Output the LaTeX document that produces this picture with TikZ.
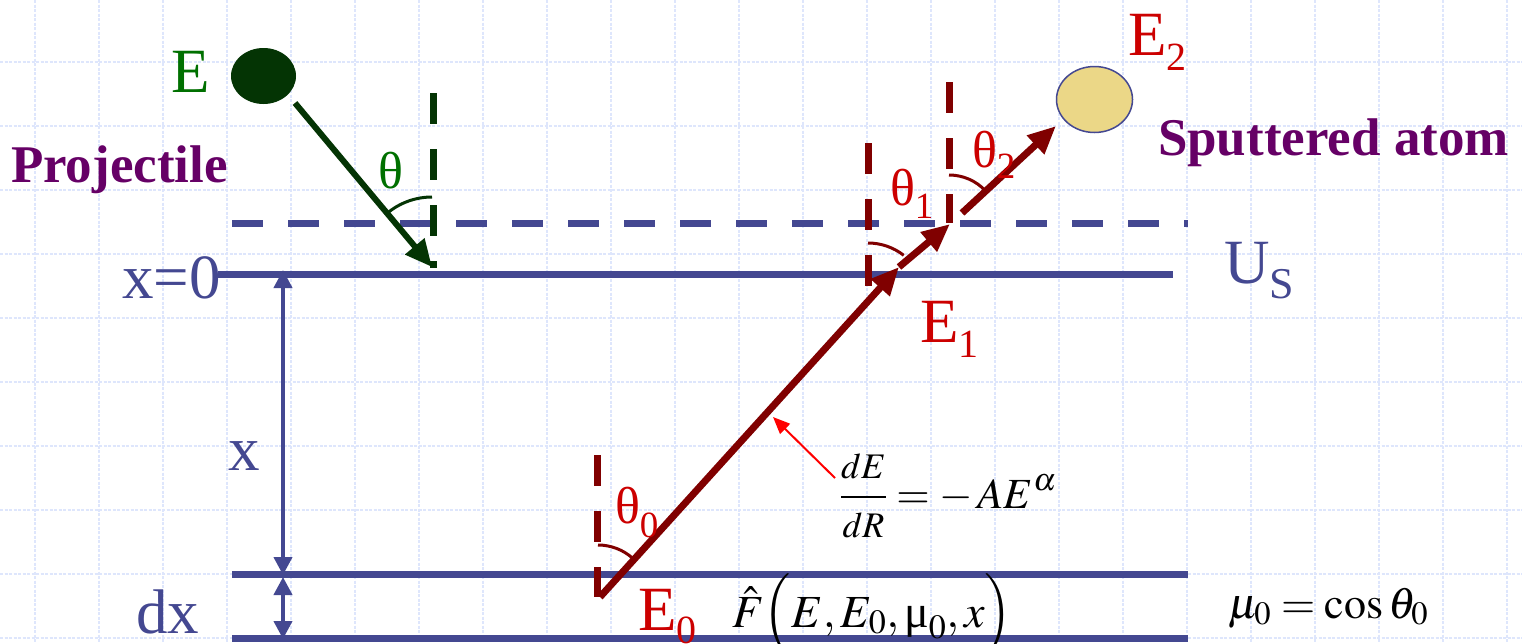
\documentclass[tikz,border=0pt]{standalone}
\usepackage{mathptmx}
\usepackage{fontspec}
\setmainfont{Liberation Serif}
\usetikzlibrary{arrows.meta,shapes.geometric}
\newcommand{\fsz}[1]{\fontsize{#1}{#1}\selectfont}
\definecolor{lineblue}{RGB}{68,72,145}
\definecolor{dkgreen}{RGB}{4,52,4}
\definecolor{lblgreen}{RGB}{0,112,0}
\definecolor{purp}{RGB}{102,0,102}
\definecolor{lblred}{RGB}{204,0,0}
\definecolor{dkred}{RGB}{128,0,0}
\definecolor{gridc}{RGB}{222,230,252}
\definecolor{ballyel}{RGB}{235,215,135}
\begin{document}
\begin{tikzpicture}[x=1pt,y=-1pt,
  gridline/.style={draw=gridc,line width=1.3pt,dash pattern=on 3pt off 1.5pt},
  bluesolid/.style={draw=lineblue,line width=7pt},
  bluedash/.style={draw=lineblue,line width=7pt,dash pattern=on 31pt off 25pt},
  grnarrow/.style={draw=dkgreen,line width=6pt,-{Triangle[length=27pt,width=24pt]}},
  grndash/.style={draw=dkgreen,line width=7pt,dash pattern=on 31pt off 25pt},
  redarrow/.style={draw=dkred,line width=7pt,-{Triangle[length=28pt,width=24pt]}},
  reddash/.style={draw=dkred,line width=7pt,dash pattern=on 31pt off 25pt},
  dimarrow/.style={draw=lineblue,line width=4pt,{Triangle[length=18pt,width=18pt]}-{Triangle[length=18pt,width=18pt]}},
  grnarc/.style={draw=dkgreen,line width=3pt},
  redarc/.style={draw=dkred,line width=3pt},
  redthin/.style={draw=red,line width=2pt,-{Triangle[length=17pt,width=14pt]}},
  lbl/.style={inner sep=0pt,outer sep=0pt,anchor=base west},
  big/.style={font=\fsz{63}},
  ]
\useasboundingbox (0,0) rectangle (1522,643);
\fill[white] (0,0) rectangle (1522,643);
% background grid
\foreach \gx in {35,99,...,1507} \draw[gridline] (\gx,0) -- (\gx,643);
\foreach \gy in {62,126,...,638} \draw[gridline] (0,\gy) -- (1522,\gy);

% coordinates
\coordinate (sL) at (218,274);  \coordinate (sR) at (1173,274);
\coordinate (dL) at (232,223);  \coordinate (dR) at (1188,223);
\coordinate (mL) at (232,574);  \coordinate (mR) at (1188,574);
\coordinate (bL) at (232,638);  \coordinate (bR) at (1188,638);

% surface and layer lines
\draw[bluedash] (dL) -- (dR);
\draw[bluesolid] (sL) -- (sR);
\draw[bluesolid] (mL) -- (mR);
\draw[bluesolid] (bL) -- (bR);

% dimension arrows
\coordinate (xa) at (283,270); \coordinate (xb) at (283,575);
\coordinate (xc) at (283,577); \coordinate (xd) at (283,639);
\draw[dimarrow] (xa) -- (xb);
\draw[dimarrow] (xc) -- (xd);

% projectile
\node[ellipse,fill=dkgreen,minimum width=65pt,minimum height=56pt,inner sep=0pt] (ball) at (263.5,76) {};
\coordinate (gs) at (295,103);
\coordinate (gt) at (432,267);
\coordinate (gv1) at (433,93); \coordinate (gv2) at (433,268);
\draw[grndash] (gv1) -- (gv2);
\draw[grnarrow] (gs) -- (gt);
\draw[grnarc] (gt) ++(-90:70) arc[start angle=-90,end angle=-130,radius=70];

% sputtered atom
\node[ellipse,fill=ballyel,draw=lineblue,line width=1.5pt,minimum width=76pt,minimum height=66pt,inner sep=0pt] (atom) at (1094.5,99.5) {};

% red path
\coordinate (P0) at (600,597);
\coordinate (P1) at (899,267);
\coordinate (P2) at (950,224);
\coordinate (P3s) at (962,213);
\coordinate (P3) at (1056,126);
\coordinate (r0a) at (597,455); \coordinate (r0b) at (597,597);
\coordinate (r1a) at (868,143); \coordinate (r1b) at (868,287);
\coordinate (r2a) at (949,82);  \coordinate (r2b) at (949,223);
\draw[reddash] (r0a) -- (r0b);
\draw[reddash] (r1a) -- (r1b);
\draw[reddash] (r2a) -- (r2b);
\draw[redarrow] (P0) -- (P1);
\draw[redarrow] (P1) -- (P2);
\draw[redarrow] (P3s) -- (P3);
\draw[redarc] (598,597) ++(-90:52) arc[start angle=-90,end angle=-48,radius=52];
\draw[redarc] (868,301) ++(-90:58) arc[start angle=-90,end angle=-52,radius=58];
\draw[redarc] (949,225) ++(-90:50) arc[start angle=-90,end angle=-43,radius=50];

% labels
\node[lbl,big,text=lblgreen] (lE) at (171,92) {E};
\node[lbl,font=\fsz{53}\bfseries,text=purp] (lproj) at (11,182) {Projectile};
\node[lbl,font=\fsz{52},text=lblgreen] (lth) at (378,188) {θ};
\node[inner sep=0pt,anchor=base east,big,text=lineblue] (lx0) at (221,298) {x=0};
\node[lbl,big,text=lineblue] (lUs) at (1224,283) {U\raisebox{-15pt}{\fsz{44}S}};
\node[lbl,big,text=lineblue] (lx) at (228,470) {x};
\node[lbl,big,text=lineblue] (ldx) at (136,633) {dx};
\node[lbl,big,text=lblred] (lE1) at (920,342) {E\raisebox{-15pt}{\fsz{40}1}};
\node[lbl,big,text=lblred] (lE2) at (1128,55) {E\raisebox{-15pt}{\fsz{40}2}};
\node[lbl,big,text=lblred] (lE0) at (638,630) {E\raisebox{-13pt}{\fsz{40}0}};
\node[lbl,font=\fsz{52},text=lblred] (lth1) at (890,205) {θ\raisebox{-13pt}{\fsz{37}1}};
\node[lbl,font=\fsz{52},text=lblred] (lth2) at (972,167) {θ\raisebox{-11pt}{\fsz{37}2}};
\node[lbl,font=\fsz{52},text=lblred] (lth0) at (615,523) {θ\raisebox{-14pt}{\fsz{37}0}};
\node[lbl,font=\fsz{53}\bfseries,text=purp] (lspt) at (1158,155) {Sputtered atom};

% formulas
\node[lbl,font=\fsz{43}] (fdE) at (840,508) {$\displaystyle\frac{\mbox{\fsz{36}$dE$}}{\mbox{\fsz{36}$dR$}}=-\,AE^{\alpha}$};
\node[lbl,font=\fsz{46}] (fF) at (732,627) {$\hat{F}\Bigl(E,E_{0},\mbox{μ}_{0},x\Bigr)$};
\node[lbl,font=\fsz{44}] (fmu) at (1228,618) {$\mu_0=\cos\theta_0$};
\coordinate (fa) at (835,478);
\coordinate (fb) at (773,417);
\draw[redthin] (fa) -- (fb);
\end{tikzpicture}
\end{document}
